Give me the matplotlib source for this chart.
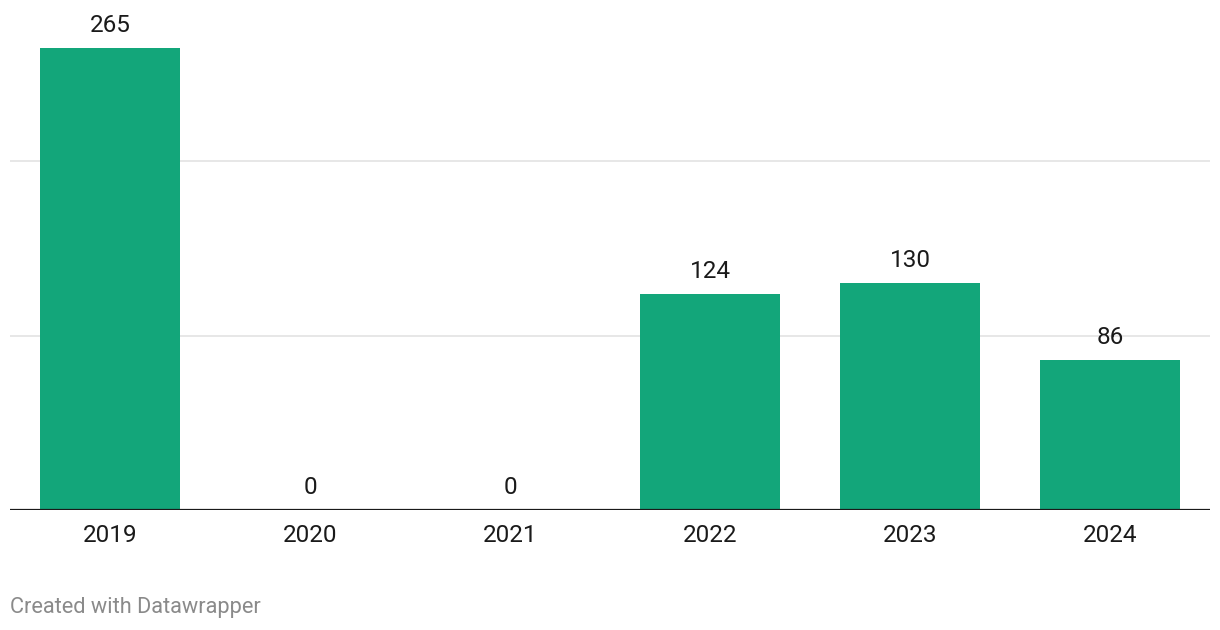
import matplotlib
matplotlib.use("Agg")
import matplotlib.pyplot as plt

years = ["2019", "2020", "2021", "2022", "2023", "2024"]
values = [265, 0, 0, 124, 130, 86]
gridlines = [100, 200]

W, H = 1220, 630
fig = plt.figure(figsize=(W / 100, H / 100), dpi=100)
plt.rcParams['font.family'] = ['Roboto', 'DejaVu Sans']

px_per_unit = (510 - 48) / 265
top_px = 5
ax = fig.add_axes([10 / W, (H - 510) / H, 1200 / W, (510 - top_px) / H])
ax.set_xlim(-0.5, len(years) - 0.5)
ax.set_ylim(0, (510 - top_px) / px_per_unit)

x = list(range(len(years)))
ax.bar(x, values, width=0.7, color="#13a67a", zorder=2)
for g in gridlines:
    ax.axhline(g, color="#e3e3e3", lw=1.2, zorder=1)
ax.axhline(0, color="#1a1a1a", lw=1.6, zorder=3)

for xi, v in zip(x, values):
    ax.annotate(str(v), (xi, v), xytext=(0, 8), textcoords="offset points",
                ha="center", va="bottom", fontsize=17.5, color="#1a1a1a")

ax.set_xticks(x)
ax.set_xticklabels(years, fontsize=17.5, color="#1a1a1a")
ax.tick_params(axis="x", length=0, pad=10)
ax.set_yticks([])
for s in ax.spines.values():
    s.set_visible(False)

fig.text(10 / W, 1 - 607 / H, "Created with Datawrapper", ha="left", va="center",
         fontsize=15.7, color="#8a8a8a")

fig.savefig("out.png", dpi=100)
